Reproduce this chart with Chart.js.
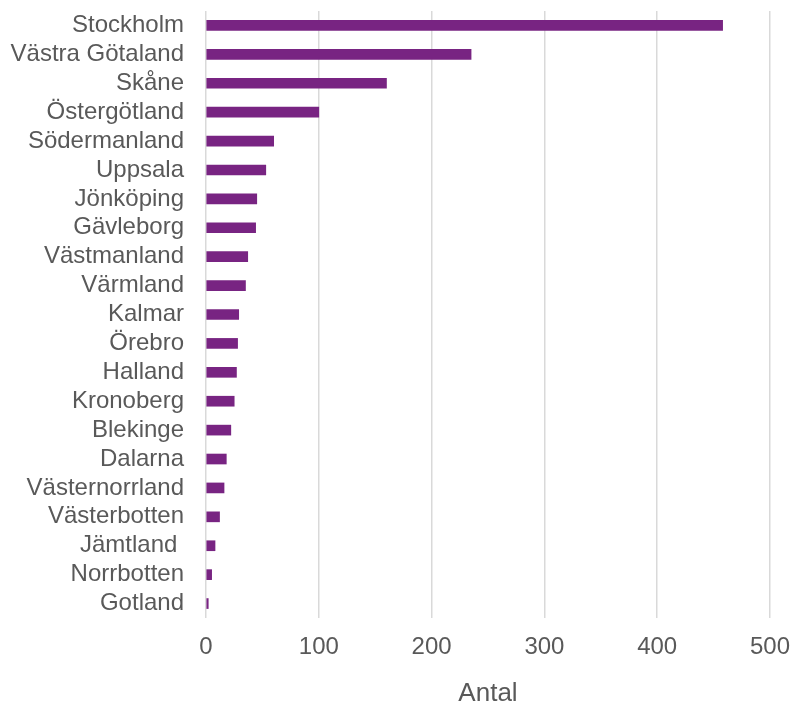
<!DOCTYPE html>
<html>
<head>
<meta charset="utf-8">
<script src="https://cdn.jsdelivr.net/npm/chart.js@4/dist/chart.umd.min.js"></script>
<style>
  html, body { margin: 0; padding: 0; background: #fff; }
  #wrap { width: 797px; height: 709px; }
</style>
</head>
<body>
<div id="wrap"><canvas id="chart"></canvas></div>
<script>
const regions = ['Stockholm', 'Västra Götaland', 'Skåne', 'Östergötland', 'Södermanland', 'Uppsala',
    'Jönköping', 'Gävleborg', 'Västmanland', 'Värmland', 'Kalmar', 'Örebro', 'Halland', 'Kronoberg',
    'Blekinge', 'Dalarna', 'Västernorrland', 'Västerbotten', 'Jämtland ', 'Norrbotten', 'Gotland'];
const antal = [458, 235, 160, 100, 60, 53, 45, 44, 37, 35, 29, 28, 27, 25, 22, 18, 16, 12, 8, 5, 2];
const xTicks = [0, 100, 200, 300, 400, 500];
const axisTitle = 'Antal';

const textColor = '#595959';
const fontFamily = '"Liberation Sans", Arial, sans-serif';

const ctx = document.getElementById('chart').getContext('2d');
new Chart(ctx, {
    type: 'bar',
    data: {
        labels: regions,
        datasets: [{
            data: antal,
            backgroundColor: '#782482',
            borderWidth: 0,
            barThickness: 10
        }]
    },
    options: {
        indexAxis: 'y',
        responsive: true,
        maintainAspectRatio: false,
        animation: false,
        layout: { padding: { top: 11, right: 27, bottom: 0, left: 0 } },
        plugins: {
            legend: { display: false },
            tooltip: { enabled: false }
        },
        scales: {
            x: {
                min: 0,
                max: 500,
                afterBuildTicks: axis => { axis.ticks = xTicks.map(v => ({ value: v })); },
                // fixed axis box so the plot area matches the original
                afterFit: axis => {
                    axis.height = 91;
                    axis.paddingLeft = 0;
                    axis.paddingRight = 0;
                },
                grid: { color: '#d9d9d9', lineWidth: 1.5, drawTicks: false },
                border: { display: false },
                ticks: {
                    color: textColor,
                    padding: 15,
                    font: { family: fontFamily, size: 24 }
                },
                title: {
                    display: true,
                    text: axisTitle,
                    color: textColor,
                    padding: { top: 17, bottom: 0 },
                    font: { family: fontFamily, size: 26 }
                }
            },
            y: {
                grid: { display: false, drawTicks: false },
                border: { display: false },
                afterFit: axis => {
                    axis.width = 206;
                    axis.paddingTop = 0;
                    axis.paddingBottom = 0;
                },
                ticks: {
                    color: textColor,
                    padding: 22,
                    autoSkip: false,
                    font: { family: fontFamily, size: 24 }
                }
            }
        }
    }
});
</script>
</body>
</html>
